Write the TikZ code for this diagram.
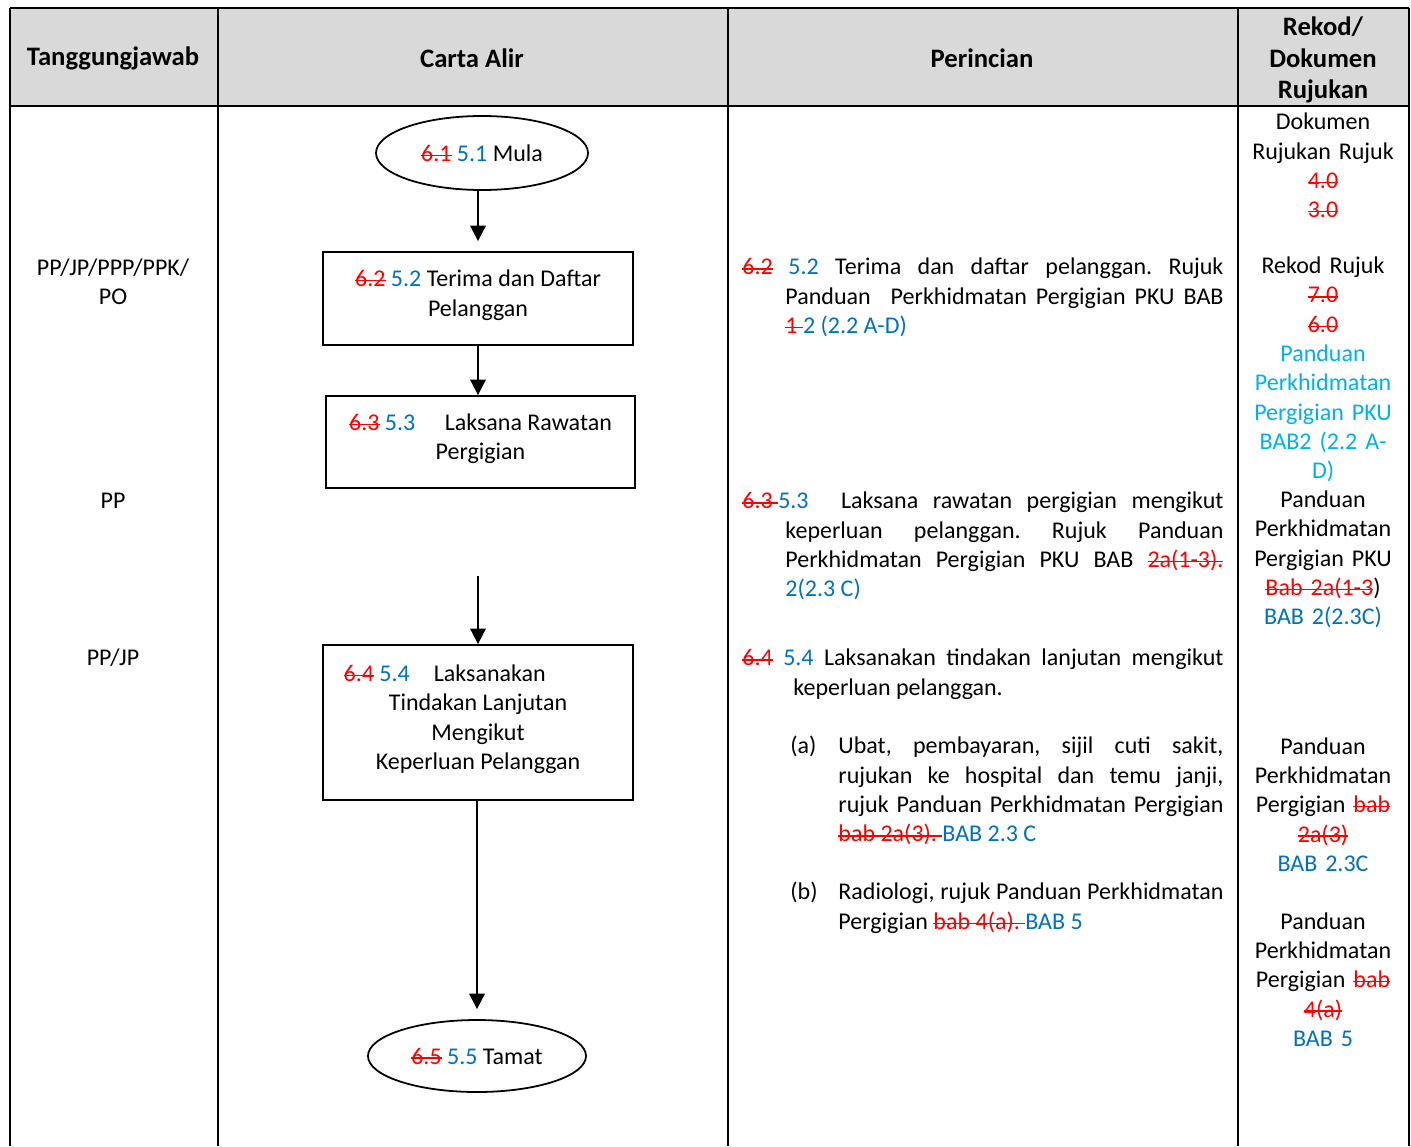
\documentclass[tikz,border=0pt]{standalone}
\usepackage{fontspec}
\setmainfont{Carlito}
\usepackage{xcolor}
\usepackage{tikz}
\usetikzlibrary{positioning,calc,shapes.geometric,arrows.meta}
\definecolor{OldRed}{RGB}{255,0,0}
\definecolor{NewBlue}{RGB}{0,112,192}
\definecolor{SkyBlue}{RGB}{0,176,240}
\definecolor{HeadGray}{RGB}{217,217,217}
\newsavebox{\strkbox}
\newcommand{\oldno}[1]{\sbox{\strkbox}{\color{OldRed}#1}\textcolor{OldRed}{\rlap{\rule[0.22em]{\wd\strkbox}{0.6pt}}\usebox{\strkbox}}}
\newcommand{\newno}[1]{\textcolor{NewBlue}{#1}}
\newcommand{\skyno}[1]{\textcolor{SkyBlue}{#1}}
\newcommand{\bodyfont}{\fontsize{10.8pt}{13.2pt}\selectfont\frenchspacing}

\begin{document}
\begin{tikzpicture}[x=0.45pt,y=-0.45pt]
				\tikzset{
					tline/.style={draw=black, line width=0.8pt},
					hd/.style={font=\bfseries\fontsize{12pt}{14.2pt}\selectfont, align=center, inner sep=0pt},
					txt/.style={font=\bodyfont, align=center, inner sep=0pt},
					rk/.style={txt, text width=77pt},
					desc/.style={font=\bodyfont, align=justify, inner sep=0pt, anchor=north west},
					term/.style={ellipse, draw=black, line width=0.8pt, inner sep=0pt, font=\bodyfont},
					proc/.style={rectangle, draw=black, line width=0.8pt, minimum width=139.5pt, inner sep=0pt,
						align=center, text depth=4.9pt, font=\bodyfont},
					e/.style={-{Triangle[length=7pt,width=7pt]}, draw=black, line width=0.8pt}
				}
				\useasboundingbox (0,0) rectangle (1411,1146);
				
				% ======= Table frame =======
				\fill[HeadGray] (10,8) rectangle (1409,106);
				\draw[tline, line width=1.1pt] (10,8) -- (1409,8);
				\draw[tline] (10,106) -- (1409,106);
				\draw[tline] (10,8) -- (10,1146);
				\draw[tline] (218,8) -- (218,1146);
				\draw[tline] (728,8) -- (728,1146);
				\draw[tline] (1238,8) -- (1238,1146);
				\draw[tline] (1409,8) -- (1409,1146);
				
				% ======= Header =======
				\node[hd] (h1) at (113,58) {Tanggungjawab};
				\node[hd] (h2) at (472,58) {Carta Alir};
				\node[hd] (h3) at (982,58) {Perincian};
				\node[hd] (h4) at (1323,60) {Rekod/\\Dokumen\\Rujukan};
				
				% ======= Tanggungjawab =======
				\node[txt] (t1) at (113,282) {PP/JP/PPP/PPK/\\PO};
				\node[txt] (t2) at (113,501) {PP};
				\node[txt] (t3) at (113,658) {PP/JP};
				
				% ======= Carta alir =======
				\node[term, minimum width=95.4pt, minimum height=33.3pt] (mula) at (482,153) {\oldno{6.1} \newno{5.1} Mula};
				\node[proc, minimum height=41.85pt] (terima) at (478,298.5) {\oldno{6.2} \newno{5.2} Terima dan Daftar\\Pelanggan};
				\node[proc, minimum width=139pt, minimum height=41.4pt] (rawatan) at (480.5,442) {\oldno{6.3} \newno{5.3}\quad\ Laksana Rawatan\\Pergigian};
				\node[proc, minimum height=69.75pt] (lanjutan) at (478,722.5) {\oldno{6.4} \newno{5.4}\quad Laksanakan\hspace*{30pt}\\Tindakan Lanjutan\\Mengikut\\Keperluan Pelanggan};
				\node[term, minimum width=98.1pt, minimum height=32.4pt] (tamat) at (477,1056) {\oldno{6.5} \newno{5.5} Tamat};
				\coordinate (masuk) at (478,576);
				
				\draw[e, shorten >=4.5pt] (mula.south -| terima.north) -- (terima.north);
				\draw[e] (terima.south) -- (terima.south |- rawatan.north);
				\draw[e] (masuk) -- (masuk |- lanjutan.north);
				\draw[e, shorten >=4.5pt] (lanjutan.south -| tamat.north) -- (tamat.north);
				
				% ======= Perincian =======
				\node[desc, text width=216.45pt] (p52) at (742,254) {\hangindent=19.35pt\hangafter=1\noindent\strut
					\makebox[20.7pt][l]{\oldno{6.2}}\newno{5.2} Terima dan daftar pelanggan. Rujuk\linebreak
					Panduan\hspace{9pt}Perkhidmatan Pergigian PKU BAB\linebreak
					\oldno{1 }\newno{2 (2.2 A-D)}\par};
				\node[desc, text width=216.45pt] (p53) at (742,488) {\hangindent=19.35pt\hangafter=1\noindent\strut
					\oldno{6.3 }\newno{5.3}\hspace{8pt} Laksana rawatan pergigian mengikut\linebreak
					keperluan pelanggan. Rujuk Panduan\linebreak
					Perkhidmatan Pergigian PKU BAB \oldno{2a(1-3).}\linebreak
					\newno{2(2.3 C)}\par};
				\node[desc, text width=216.45pt] (p54) at (742,645) {\hangindent=22.95pt\hangafter=1\noindent\strut
					\oldno{6.4} \newno{5.4} Laksanakan tindakan lanjutan mengikut\linebreak
					keperluan pelanggan.\par};
				\node[desc, text width=194.85pt] (p54a) at (790,733) {\hangindent=21.6pt\hangafter=1\noindent\strut
					\makebox[21.6pt][l]{(a)}Ubat, pembayaran, sijil cuti sakit,\linebreak
					rujukan ke hospital dan temu janji,\linebreak
					rujuk Panduan Perkhidmatan Pergigian\linebreak
					\oldno{bab 2a(3). }\newno{BAB 2.3 C}\par};
				\node[desc, text width=194.85pt] (p54b) at (790,879) {\hangindent=21.6pt\hangafter=1\noindent\strut
					\makebox[21.6pt][l]{(b)}Radiologi, rujuk Panduan Perkhidmatan\linebreak
					Pergigian \oldno{bab 4(a). }\newno{BAB 5}\par};
				
				% ======= Rekod / Dokumen Rujukan =======
				\node[rk] (r1) at (1323,165.5) {Dokumen\\Rujukan Rujuk\\\oldno{4.0}\\\oldno{3.0}};
				\node[rk] (r2) at (1323,369.5) {Rekod Rujuk\\\oldno{7.0}\\\oldno{6.0}\\\skyno{Panduan}\\\skyno{Perkhidmatan}\\\skyno{Pergigian PKU}\\\skyno{BAB2 (2.2 A-}\\\skyno{D)}};
				\node[rk] (r3) at (1323,559.5) {Panduan\\Perkhidmatan\\Pergigian PKU\\\oldno{Bab 2a(1-3})\\\newno{BAB 2(2.3C)}};
				\node[rk] (r4) at (1323,804.5) {Panduan\\Perkhidmatan\\Pergigian \oldno{bab}\\\oldno{2a(3)}\\\newno{BAB 2.3C}};
				\node[rk] (r5) at (1323,979.5) {Panduan\\Perkhidmatan\\Pergigian \oldno{bab}\\\oldno{4(a)}\\\newno{BAB 5}};
			\end{tikzpicture}
\end{document}
